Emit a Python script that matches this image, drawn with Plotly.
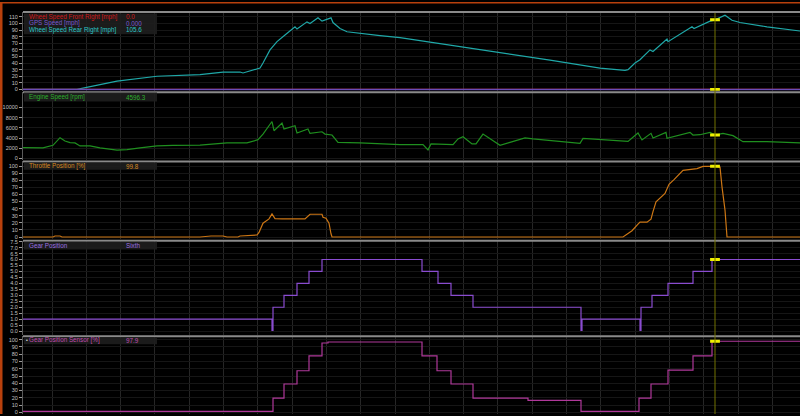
import plotly.graph_objects as go

# ---------------- data (time in s) ----------------
t_speed = [0, 5.4, 9.4, 13.4, 17.7, 20.0, 21.7, 22.0, 23.7, 24.0, 24.7, 25.4, 26.2, 27.2, 27.4,
           28.4, 28.7, 29.5, 29.9, 30.5, 30.8, 31.0, 31.7, 32.4, 33.7, 35.7, 37.7, 42.7, 47.7,
           52.7, 57.7, 60.2, 60.5, 61.2, 61.7, 62.7, 63.0, 64.4, 64.5, 66.9, 67.1, 68.7, 69.2,
           70.2, 70.9, 71.7, 74.4, 77.7]
speed_rear_right = [0, 0, 12.5, 20, 22.5, 26.4, 26.4, 25, 32.4, 40, 60, 72.5, 82.6, 95, 91.6,
                    102.5, 100, 108.6, 103.6, 107.5, 108.6, 101.5, 92.5, 87.5, 85, 81.5, 78.5, 67.3, 56,
                    44.4, 32.4, 29, 30, 40, 45, 60, 57.5, 76.6, 72.5, 95, 92.5, 103.6, 105.6,
                    112.6, 105, 101.5, 95, 88.6]
t_flat = [0, 77.7]
speed_front_right = [0, 0]
gps_speed = [0, 0]

t_engine = [0, 2.0, 3.0, 3.7, 4.2, 4.7, 5.2, 5.7, 6.7, 7.7, 9.4, 10.4, 11.7, 13.4, 15.0, 17.7,
            20.4, 22.4, 23.5, 24.0, 24.9, 25.1, 25.9, 26.1, 27.2, 27.4, 28.5, 28.7, 29.9, 30.2,
            30.9, 31.5, 33.7, 37.7, 40.0, 40.5, 40.8, 43.0, 43.5, 44.0, 44.9, 45.3, 46.0, 46.7,
            47.7, 48.7, 50.2, 51.0, 54.4, 55.7, 56.0, 56.9, 59.4, 60.5, 61.5, 61.9, 62.8, 63.0,
            64.3, 64.4, 66.7, 67.0, 67.7, 68.7, 69.2, 70.0, 71.0, 72.0, 74.4, 77.0, 77.7]
engine_rpm = [2136, 2080, 2580, 4080, 3430, 3100, 3050, 2460, 2460, 2080, 1620, 1750, 2080, 2460, 2580, 2620,
              3050, 3050, 3690, 4790, 7250, 5440, 6930, 5770, 6410, 5000, 5770, 4920, 5240, 4790,
              4600, 3170, 3050, 2700, 2720, 1690, 2850, 2720, 3830, 4270, 2850, 2850, 4790, 3830,
              2600, 3170, 4020, 3830, 3300, 2970, 3950, 3830, 3360, 3360, 4990, 3630, 4920, 4020,
              5110, 3950, 5110, 4600, 4660, 5110, 4596, 4920, 4470, 3300, 3300, 3170, 3050]

t_throttle = [0, 3.0, 3.2, 3.7, 3.9, 17.7, 18.8, 20.0, 20.4, 21.5, 21.7, 23.4, 23.6, 24.0, 24.6,
              24.9, 25.2, 25.9, 28.2, 28.7, 29.9, 30.0, 30.3, 30.6, 30.8, 30.9, 60.0, 60.9, 61.5,
              61.7, 62.4, 62.8, 63.0, 63.3, 64.2, 64.6, 65.1, 66.0, 67.4, 68.0, 69.2, 69.7, 69.9,
              70.2, 70.4, 77.7]
throttle = [0, 0, 1.4, 1.4, 0, 0, 1.4, 1.4, 0, 0, 1.4, 2.8, 6.4, 19.5, 25.6,
            32.5, 26, 25.6, 25.6, 32.1, 32.1, 27.9, 26.5, 19.5, 4.6, 0, 0, 8.8, 18.2,
            21, 21, 25.1, 35.8, 49.7, 61.5, 74.4, 81, 94, 96.4, 99.6, 99.8, 98.6, 70.7,
            38, 0, 0]

t_gear = [0, 24.9, 25.0, 26.1, 27.4, 28.6, 29.9, 39.9, 41.5, 42.8, 45.0, 55.8, 55.9, 61.7, 61.8,
          62.9, 64.5, 67.0, 68.9, 77.7]
gear = [1, 0.05, 2, 3, 4, 5, 6, 5, 4, 3, 2, 0.05, 1, 0.05, 2, 3, 4, 5, 6, 6]

t_sensor = [0, 25.0, 26.1, 27.4, 28.6, 29.9, 30.5, 39.9, 41.4, 42.8, 45.0, 50.5, 55.8, 61.6, 62.8,
            64.5, 67.0, 68.9, 77.7]
gear_sensor = [1.4, 19.5, 39, 57.3, 77.8, 95.5, 96.9, 77.8, 57.3, 39, 19.5, 16.4, 1.4, 19.5, 39,
               58, 77.8, 97.9, 97.9]

cursor_t = 69.2
cursor_values = {"speed_rr": 105.6, "speed_fr": 0.0, "gps": 0.0, "rpm": 4596.3,
                 "throttle": 99.8, "gear": 6, "sensor": 97.9}

y_ticks = [
    [0, 10, 20, 30, 40, 50, 60, 70, 80, 90, 100, 110],
    [0, 2000, 4000, 6000, 8000, 10000],
    [0, 10, 20, 30, 40, 50, 60, 70, 80, 90, 100],
    [0, 0.5, 1, 1.5, 2, 2.5, 3, 3.5, 4, 4.5, 5, 5.5, 6, 6.5, 7, 7.5],
    [0, 10, 20, 30, 40, 50, 60, 70, 80, 90, 100],
]

# ---------------- layout helpers ----------------
W, H = 800, 416
L = 23
PW = W - L


def py(px):
    return 1 - px / H


def px_x(px):
    return (px - L) / PW


panels = [(10, 89.5), (91, 160), (161, 239), (241, 336.5), (337.5, 416)]
ranges = [[-1.8, 117.6], [-388, 13010], [-2.4, 106.6], [-0.35, 7.58], [-2.3, 104.8]]

RED = "#d01818"
PURPLE_GPS = "#6a4cb8"
CYAN = "#1fa8a8"
GREEN = "#1f8f1f"
ORANGE = "#cc7614"
GEAR = "#8a4cd0"
SENSOR = "#b0389a"
YEL = "#f0f000"

fig = go.Figure()


def add_line(x, y, color, k, shape="linear", width=1.2):
    fig.add_trace(go.Scatter(x=x, y=y, mode="lines", line=dict(color=color, width=width, shape=shape),
                             xaxis="x" if k == 1 else f"x{k}", yaxis="y" if k == 1 else f"y{k}",
                             hoverinfo="skip", showlegend=False))


def add_cursor(v, k):
    fig.add_trace(go.Scatter(x=[cursor_t], y=[v], mode="markers",
                             marker=dict(symbol="line-ew", size=7, line=dict(color=YEL, width=3)),
                             xaxis="x" if k == 1 else f"x{k}", yaxis="y" if k == 1 else f"y{k}",
                             hoverinfo="skip", showlegend=False))


add_line(t_speed, speed_rear_right, CYAN, 1)
add_line(t_flat, speed_front_right, RED, 1)
add_line(t_flat, gps_speed, PURPLE_GPS, 1, width=1.5)
add_line(t_engine, engine_rpm, GREEN, 2)
add_line(t_throttle, throttle, ORANGE, 3)
add_line(t_gear, gear, GEAR, 4, shape="hv")
add_line(t_sensor, gear_sensor, SENSOR, 5, shape="hv")

layout = dict(
    width=W, height=H,
    margin=dict(l=L, r=0, t=0, b=0),
    paper_bgcolor="#000000", plot_bgcolor="#000000",
    font=dict(family="Liberation Sans, Arial, sans-serif", color="#c8c8c8", size=6),
    showlegend=False,
    hovermode=False,
)

for i, ((top, bot), rng, tv) in enumerate(zip(panels, ranges, y_ticks)):
    k = i + 1
    xa = "xaxis" if k == 1 else f"xaxis{k}"
    ya = "yaxis" if k == 1 else f"yaxis{k}"
    layout[xa] = dict(
        domain=[0, 1], range=[0, 77.7], anchor="y" if k == 1 else f"y{k}",
        showticklabels=False, ticks="", showgrid=True, gridcolor="#262626", gridwidth=1,
        tick0=2.9, dtick=3.43, zeroline=False, showline=False, fixedrange=True,
    )
    if k > 1:
        layout[xa]["matches"] = "x"
    layout[ya] = dict(
        domain=[py(bot), py(top)], range=rng, anchor="x" if k == 1 else f"x{k}",
        tickvals=tv, ticktext=[(f"{v:.1f}" if k == 4 else f"{v:g}") for v in tv],
        ticks="outside", ticklen=3, tickcolor="#9a9a9a", tickwidth=1,
        showgrid=True, gridcolor="#161616", zeroline=False,
        showline=True, linecolor="#5a5a5a", linewidth=1,
        tickfont=dict(size=5.5, color="#c0c0c0"), fixedrange=True,
    )

fig.update_layout(**layout)

shapes = []
# outer orange frame (left & top)
shapes.append(dict(type="rect", xref="paper", yref="paper", x0=-L / PW, x1=-L / PW + 2.5 / PW,
                   y0=0, y1=1, fillcolor="#b8400c", line=dict(width=0), layer="above"))
shapes.append(dict(type="rect", xref="paper", yref="paper", x0=-L / PW, x1=1,
                   y0=py(1.5), y1=1, fillcolor="#b8400c", line=dict(width=0), layer="above"))
# panel separators
for top, bot in panels:
    shapes.append(dict(type="line", xref="paper", yref="paper", x0=0, x1=1, y0=py(top), y1=py(top),
                       line=dict(color="#8a8a8a", width=2), layer="above"))
# cursor line
shapes.append(dict(type="line", xref="x", yref="paper", x0=cursor_t, x1=cursor_t, y0=0, y1=py(11),
                   line=dict(color="#727200", width=1), layer="above"))
# legend boxes
boxes = [(11.5, 32.5), (91.5, 100.5), (162, 169.5), (242, 250), (338.5, 345.5)]
for b0, b1 in boxes:
    shapes.append(dict(type="rect", xref="paper", yref="paper", x0=px_x(24), x1=px_x(157),
                       y0=py(b1), y1=py(b0), fillcolor="#1e1e1e", opacity=0.9,
                       line=dict(width=0), layer="above"))
fig.update_layout(shapes=shapes)

# cursor value markers drawn last so they sit on top of the cursor line
add_cursor(cursor_values["speed_rr"], 1)
add_cursor(cursor_values["gps"], 1)
add_cursor(cursor_values["rpm"], 2)
add_cursor(cursor_values["throttle"], 3)
add_cursor(cursor_values["gear"], 4)
add_cursor(cursor_values["sensor"], 5)

labels = [
    ("Wheel Speed Front Right [mph]", "0.0", RED, 15),
    ("GPS Speed [mph]", "0.000", "#7a5ad0", 21.7),
    ("Wheel Speed Rear Right [mph]", "105.6", "#2cc8c8", 28.2),
    ("Engine Speed [rpm]", "4596.3", "#2eb02e", 96.2),
    ("Throttle Position [%]", "99.8", "#d88a24", 165.7),
    ("Gear Position", "Sixth", "#9a70e0", 245.8),
    ("Gear Position Sensor [%]", "97.9", "#c04eb0", 341.5),
]
ann = []
for name, val, col, ypx in labels:
    ann.append(dict(text=name, xref="paper", yref="paper", x=px_x(27), y=py(ypx),
                    xanchor="left", yanchor="middle", showarrow=False,
                    font=dict(size=6.3, color=col)))
    ann.append(dict(text=val, xref="paper", yref="paper", x=px_x(124), y=py(ypx),
                    xanchor="left", yanchor="middle", showarrow=False,
                    font=dict(size=6.3, color=col)))
ann.append(dict(text="•", xref="paper", yref="paper", x=px_x(23.5), y=py(341.5),
                xanchor="left", yanchor="middle", showarrow=False, font=dict(size=5, color="#e0e0e0")))
fig.update_layout(annotations=ann)

fig.write_html("out.html", config={"displayModeBar": False, "staticPlot": True},
               post_script="document.body.style.margin='0px';document.body.style.overflow='hidden';")
